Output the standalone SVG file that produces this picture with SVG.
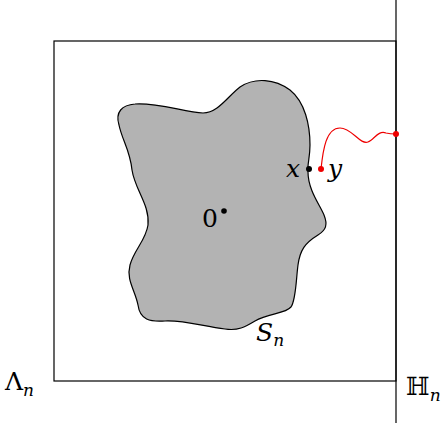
<svg xmlns="http://www.w3.org/2000/svg" width="448" height="428" viewBox="0 0 448 428">
<style>
.ln{fill:none;stroke:#000;stroke-width:1.2}
</style>
<rect width="448" height="428" fill="#fff"/>
<g id="box-Lambda">
<rect class="ln" x="54" y="41" width="342" height="340"/>
<text x="5" y="390" font-family="DejaVu Serif, serif" font-size="25">Λ<tspan font-style="italic" font-size="17" dy="6">n</tspan></text>
</g>
<g id="halfplane-H">
<line class="ln" x1="396" y1="0" x2="396" y2="423"/>
<text x="406" y="395" font-family="DejaVu Serif, DejaVu Sans, serif" font-size="25">ℍ<tspan font-style="italic" font-size="17" dy="6">n</tspan></text>
</g>
<g id="blob-S">
<path d="M119,125 C115,112 122,105 135,104 C155,102 185,112 203,113 C218,113 228,96 240,87 C255,77 275,79 290,90 C305,102 310,125 310,145 C310,158 307,165 308,172 C308,190 320,205 324,215 C328,225 326,230 318,235 C305,243 300,250 298,265 C296,280 296,300 291,307 C285,314 268,313 255,321 C245,327 238,331 225,329 C205,327 185,320 165,321 C150,322 140,320 138,305 C135,290 126,280 130,265 C134,250 146,240 148,225 C150,205 135,190 132,170 C130,150 122,140 119,125 Z" fill="#b3b3b3" stroke="#000" stroke-width="1.2"/>
<text x="256" y="341" font-family="DejaVu Serif, serif" font-style="italic" font-size="25">S<tspan font-size="17" dy="5">n</tspan></text>
</g>
<g id="origin">
<circle cx="224" cy="211" r="2.8" fill="#000"/>
<text x="202" y="227" font-family="DejaVu Serif, serif" font-size="25">0</text>
</g>
<g id="point-x">
<circle cx="309" cy="169" r="3" fill="#000"/>
<text x="286" y="177" font-family="DejaVu Serif, serif" font-style="italic" font-size="25">x</text>
</g>
<g id="point-y">
<circle cx="321" cy="169" r="3" fill="#e00"/>
<text x="328" y="177" font-family="DejaVu Serif, serif" font-style="italic" font-size="25">y</text>
</g>
<g id="connectors">
<path d="M321,169 C323,150 326,128 340,128 C352,128 360,145 368,142 C374,140 378,130 386,133 C390,134 393,134 396,134" fill="none" stroke="#e00" stroke-width="1.2"/>
<circle cx="396" cy="134" r="3" fill="#e00"/>
</g>
</svg>
